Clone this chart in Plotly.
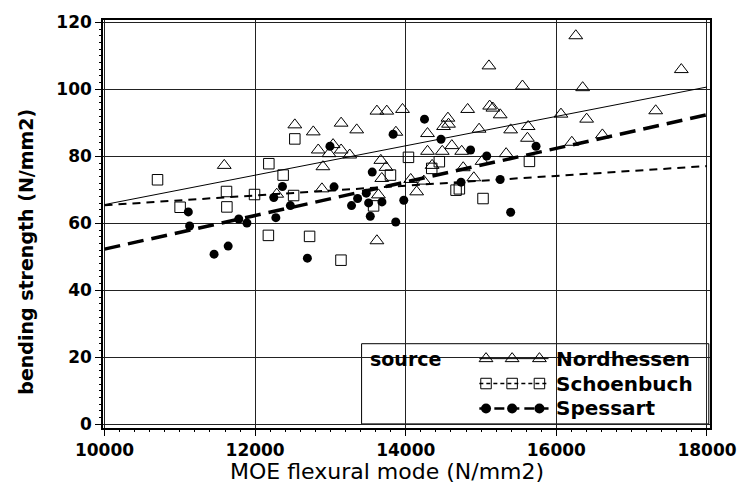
import plotly.graph_objects as go

# ---- data ----
nord_x = [11590, 12527, 12772, 13142, 13349, 13617, 13748, 13957, 13035, 12838,
          12981, 13142, 13256, 12900, 12287, 12887, 13869, 13669, 13738, 13682,
          13637, 13617, 14066, 14240, 14145, 14289, 14350, 14502, 14560, 14568,
          14485, 14612, 14743, 14763, 14904, 14822, 14974, 15013, 15105, 15114,
          15157, 15254, 15333, 15393, 15550, 15625, 15616, 16061, 16205, 16258,
          16349, 16402, 16611, 17319, 17659, 14289]
nord_y = [77.3, 89.4, 87.3, 89.9, 87.9, 93.5, 93.5, 94.0, 83.5, 81.9,
          80.8, 81.9, 80.4, 76.9, 68.7, 70.3, 87.2, 78.8, 76.7, 73.4,
          68.5, 54.8, 73.1, 72.6, 69.4, 81.5, 77.3, 88.9, 91.4, 89.6,
          81.5, 83.2, 81.5, 76.6, 73.6, 94.0, 88.1, 78.5, 107.0, 95.0,
          94.4, 92.4, 80.8, 87.9, 101.0, 88.9, 85.4, 92.6, 84.2, 116.0,
          100.5, 91.1, 86.4, 93.6, 105.9, 86.8]

scho_x = [10704, 12527, 12182, 12372, 11620, 11992, 11004, 11625, 12511, 12176,
          12723, 13140, 13573, 13797, 14036, 14446, 14345, 14668, 14712, 15026,
          15642]
scho_y = [73.0, 85.2, 77.8, 74.4, 69.5, 68.6, 64.8, 64.9, 68.3, 56.4,
          56.1, 49.0, 65.2, 74.4, 79.7, 78.4, 76.4, 69.9, 70.3, 67.4,
          78.5]

spes_x = [11113, 11130, 11455, 11642, 11783, 11891, 12275, 12248, 12363, 12468,
          12694, 12994, 13048, 13280, 13361, 13476, 13507, 13529, 13555, 13684,
          13833, 13867, 13974, 14249, 14468, 14734, 14861, 15075, 15254, 15393,
          15730]
spes_y = [63.4, 59.2, 50.8, 53.2, 61.3, 60.1, 61.7, 67.7, 71.0, 65.3,
          49.6, 83.0, 70.9, 65.3, 67.4, 69.0, 66.1, 62.1, 75.3, 66.4,
          86.6, 60.4, 66.9, 91.1, 85.1, 72.3, 81.9, 80.1, 73.1, 63.3,
          83.0]

# regression lines (end values)
fit_x = [10000, 18000]
nord_fit = [65.6, 100.7]
scho_fit = [65.4, 77.1]
spes_fit = [52.3, 92.4]

x_ticks = [10000, 12000, 14000, 16000, 18000]
y_ticks = [0, 20, 40, 60, 80, 100, 120]

series_names = ["Nordhessen", "Schoenbuch", "Spessart"]
legend_title = "source"
x_title = "MOE flexural mode (N/mm2)"
y_title = "bending strength (N/mm2)"

FONT = "DejaVu Sans"
mline = dict(color="black", width=1)

fig = go.Figure()

# regression lines
fig.add_trace(go.Scatter(x=fit_x, y=nord_fit, mode="lines",
                         line=dict(color="black", width=1), hoverinfo="skip"))
fig.add_trace(go.Scatter(x=fit_x, y=scho_fit, mode="lines",
                         line=dict(color="black", width=2, dash="8px,6px"), hoverinfo="skip"))
fig.add_trace(go.Scatter(x=fit_x, y=spes_fit, mode="lines",
                         line=dict(color="black", width=3.5, dash="16px,8px"), hoverinfo="skip"))

# points
fig.add_trace(go.Scatter(x=nord_x, y=nord_y, mode="markers", name=series_names[0],
                         marker=dict(symbol="triangle-up-open", size=12, color="black", line=mline)))
fig.add_trace(go.Scatter(x=scho_x, y=scho_y, mode="markers", name=series_names[1],
                         marker=dict(symbol="square-open", size=10.5, color="black", line=mline)))
fig.add_trace(go.Scatter(x=spes_x, y=spes_y, mode="markers", name=series_names[2],
                         marker=dict(symbol="circle", size=9, color="black")))

# ---- custom legend (overlay axes in plot-fraction units) ----
row_y = [0.170, 0.109, 0.048]
sym_x = [0.631, 0.674, 0.719]
line_x = [0.620, 0.734]
styles = [
    (dict(color="black", width=1), dict(symbol="triangle-up-open", size=12, color="black", line=mline)),
    (dict(color="black", width=1.5, dash="4px,3px"), dict(symbol="square-open", size=10.5, color="black", line=mline)),
    (dict(color="black", width=2.5, dash="10px,5px"), dict(symbol="circle", size=10, color="black")),
]
for i, (ls, ms) in enumerate(styles):
    fig.add_trace(go.Scatter(x=line_x, y=[row_y[i]] * 2, mode="lines", line=ls,
                             xaxis="x2", yaxis="y2", hoverinfo="skip"))
    fig.add_trace(go.Scatter(x=sym_x, y=[row_y[i]] * 3, mode="markers", marker=ms,
                             xaxis="x2", yaxis="y2", hoverinfo="skip"))
    fig.add_annotation(x=0.743, y=row_y[i], xref="paper", yref="paper", text=series_names[i],
                       showarrow=False, xanchor="left", yanchor="middle",
                       font=dict(family=FONT, size=20, color="black", weight="bold"))
fig.add_annotation(x=0.437, y=row_y[0], xref="paper", yref="paper", text=legend_title,
                   showarrow=False, xanchor="left", yanchor="middle",
                   font=dict(family=FONT, size=19, color="black", weight="bold"))
fig.add_shape(type="rect", xref="paper", yref="paper", x0=0.426, x1=0.998, y0=0.01, y1=0.2066,
              line=dict(color="black", width=1), fillcolor="white", layer="below")

# axis titles as annotations for exact placement
fig.add_annotation(x=0.468, y=-0.106, xref="paper", yref="paper", text=x_title,
                   showarrow=False, xanchor="center", yanchor="middle",
                   font=dict(family=FONT, size=22, color="black"))
fig.add_annotation(x=-0.127, y=0.432, xref="paper", yref="paper", text=y_title,
                   showarrow=False, xanchor="center", yanchor="middle", textangle=-90,
                   font=dict(family=FONT, size=19, color="black", weight="bold"))

axis_common = dict(showline=True, linecolor="black", linewidth=1.5, mirror=True,
                   showgrid=True, gridcolor="#222222", gridwidth=1, zeroline=False,
                   ticks="outside", ticklen=6, tickcolor="black",
                   tickfont=dict(family=FONT, size=17, color="black", weight="bold"))

fig.update_layout(
    width=749, height=489,
    margin=dict(l=103, r=31, t=18, b=61),
    paper_bgcolor="white", plot_bgcolor="white",
    showlegend=False,
    xaxis=dict(range=[9980, 18040], tickvals=x_ticks, ticktext=[str(v) for v in x_ticks],
               minor=dict(dtick=200, ticks="outside", ticklen=2, tickcolor="black", showgrid=False),
               **axis_common),
    yaxis=dict(range=[-1.1, 120.7], tickvals=y_ticks, ticktext=[str(v) for v in y_ticks],
               minor=dict(dtick=2, ticks="outside", ticklen=2, tickcolor="black", showgrid=False),
               **axis_common),
    xaxis2=dict(overlaying="x", range=[0, 1], visible=False, fixedrange=True),
    yaxis2=dict(overlaying="y", range=[0, 1], visible=False, fixedrange=True),
)

# remove the browser's default 8px body margin so the figure fills the window exactly
fig.write_html("out.html", config={"displayModeBar": False},
               post_script="document.body.style.margin='0';document.body.style.overflow='hidden';")
